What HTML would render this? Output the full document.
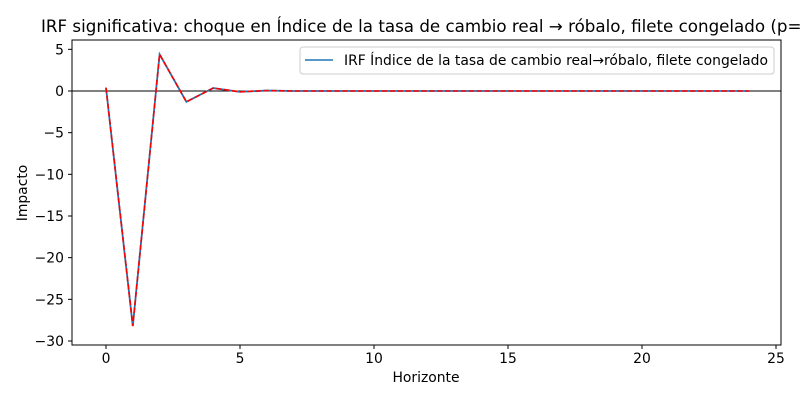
<!DOCTYPE html>
<html><head><meta charset="utf-8"><style>
body{margin:0;background:#fff;overflow:hidden}
svg{font-family:"DejaVu Sans","Liberation Sans",sans-serif}
</style></head><body>
<svg id="chart" width="800" height="400">
<text x="41" y="32" font-size="16.7">IRF significativa: choque en Índice de la tasa de cambio real → róbalo, filete congelado (p=1)</text>
<rect x="72" y="40" width="709" height="305" fill="none" stroke="#000" stroke-width="1"/>
<g id="xt"></g><g id="yt"></g>
<line id="zero" stroke="#000" stroke-width="1"/>
<polyline id="blue" fill="none" stroke="#1f77b4" stroke-width="1.8"/>
<polyline id="red" fill="none" stroke="#ff0000" stroke-width="1.6" stroke-dasharray="5.5,2.4"/>
<text x="426" y="382" font-size="13.9" text-anchor="middle">Horizonte</text>
<text transform="translate(27,193) rotate(-90)" font-size="13.9" text-anchor="middle">Impacto</text>
<g>
<rect x="300" y="47" width="474" height="27" rx="3" fill="#fff" fill-opacity="0.8" stroke="#ccc"/>
<line x1="305" y1="60" x2="333" y2="60" stroke="#1f77b4" stroke-width="1.5"/>
<text x="344" y="65" font-size="13.9">IRF Índice de la tasa de cambio real→róbalo, filete congelado</text>
</g>
</svg>
<script>
const horizons=[0,1,2,3,4,5,6,7,8,9,10,11,12,13,14,15,16,17,18,19,20,21,22,23,24];
const irfValues=[0.4,-28.2,4.4,-1.3,0.35,-0.1,0.05,0,0,0,0,0,0,0,0,0,0,0,0,0,0,0,0,0,0];
const sigValues=[0.4,-28.2,4.4,-1.3,0.35,-0.1,0.05,0,0,0,0,0,0,0,0,0,0,0,0,0,0,0,0,0,0];
const xTicks=[0,5,10,15,20,25];
const yTicks=[5,0,-5,-10,-15,-20,-25,-30];
const X=v=>106+v*26.8, Y=v=>91-v*8.333;
const ns="http://www.w3.org/2000/svg";
const xt=document.getElementById('xt'), yt=document.getElementById('yt');
xTicks.forEach(t=>{
 const l=document.createElementNS(ns,'line');l.setAttribute('x1',X(t));l.setAttribute('x2',X(t));l.setAttribute('y1',345);l.setAttribute('y2',349);l.setAttribute('stroke','#000');
 
 
 xt.appendChild(l);
 const s=document.createElementNS(ns,'text');s.setAttribute('x',X(t));s.setAttribute('y',363);s.setAttribute('font-size','13.9');s.setAttribute('text-anchor','middle');s.textContent=t;
 
 
 xt.appendChild(s);
});
yTicks.forEach(t=>{
 const l=document.createElementNS(ns,'line');l.setAttribute('x1',68);l.setAttribute('x2',72);l.setAttribute('y1',Y(t));l.setAttribute('y2',Y(t));l.setAttribute('stroke','#000');
 
 
 yt.appendChild(l);
 const s=document.createElementNS(ns,'text');s.setAttribute('x',64);s.setAttribute('y',Y(t)+5);s.setAttribute('font-size','13.9');s.setAttribute('text-anchor','end');s.textContent=t<0?'\u2212'+(-t):t;
 
 
 yt.appendChild(s);
});
const z=document.getElementById('zero');z.setAttribute('x1',72);z.setAttribute('x2',781);z.setAttribute('y1',Y(0));z.setAttribute('y2',Y(0));
document.getElementById('blue').setAttribute('points',horizons.map((h,i)=>X(h)+','+Y(irfValues[i])).join(' '));
document.getElementById('red').setAttribute('points',horizons.map((h,i)=>X(h)+','+Y(sigValues[i])).join(' '));
</script>
</body></html>
